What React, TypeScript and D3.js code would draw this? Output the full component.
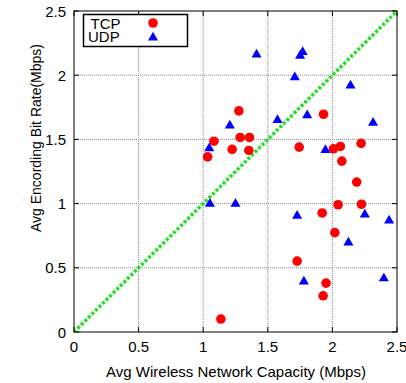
import { useRef, useEffect } from "react";
import { select, scaleLinear, line, symbol, symbolTriangle } from "d3";

const tcpX = [1.276, 1.083, 1.034, 1.224, 1.286, 1.358, 1.353, 1.931, 1.743, 2.008, 2.062, 2.073, 2.222, 2.188, 2.044, 2.225, 1.921, 2.019, 1.727, 1.951, 1.928, 1.137];
const tcpY = [1.722, 1.486, 1.364, 1.422, 1.515, 1.515, 1.414, 1.696, 1.44, 1.427, 1.445, 1.331, 1.469, 1.168, 0.991, 0.995, 0.927, 0.774, 0.552, 0.381, 0.282, 0.101];

const udpX = [1.413, 1.75, 1.77, 1.709, 2.14, 1.575, 1.805, 2.315, 1.206, 1.047, 1.946, 1.052, 1.25, 1.727, 2.251, 2.439, 2.124, 1.779, 2.398];
const udpY = [2.16, 2.15, 2.18, 1.984, 1.919, 1.65, 1.688, 1.629, 1.608, 1.43, 1.416, 0.999, 0.999, 0.904, 0.914, 0.867, 0.696, 0.393, 0.417];

const ticks = [0, 0.5, 1, 1.5, 2, 2.5];
const tickLabels = ["0", "0.5", "1", "1.5", "2", "2.5"];
const diagonal = [0, 2.5];

export default function App() {
    const svgRef = useRef(null);

    useEffect(() => {
        const svg = select(svgRef.current);
        svg.selectAll("*").remove();

        const x = scaleLinear().domain([0, 2.5]).range([74, 397]);
        const y = scaleLinear().domain([0, 2.5]).range([332, 11]);
        const font = "'Liberation Sans', Arial, sans-serif";

        // grid
        const grid = svg.append("g");
        ticks.slice(1, -1).forEach((t) => {
            grid.append("line").attr("x1", x(t)).attr("x2", x(t)).attr("y1", y(0)).attr("y2", y(2.5))
                .attr("stroke", "#888").attr("stroke-width", 1).attr("stroke-dasharray", "1,1");
            grid.append("line").attr("x1", x(0)).attr("x2", x(2.5)).attr("y1", y(t)).attr("y2", y(t))
                .attr("stroke", "#888").attr("stroke-width", 1).attr("stroke-dasharray", "1,1");
        });

        // ticks (inward, mirrored)
        ticks.forEach((t, i) => {
            svg.append("line").attr("x1", x(t)).attr("x2", x(t)).attr("y1", y(0)).attr("y2", y(0) - 5).attr("stroke", "#000");
            svg.append("line").attr("x1", x(t)).attr("x2", x(t)).attr("y1", y(2.5)).attr("y2", y(2.5) + 5).attr("stroke", "#000");
            svg.append("line").attr("x1", x(0)).attr("x2", x(0) + 5).attr("y1", y(t)).attr("y2", y(t)).attr("stroke", "#000");
            svg.append("line").attr("x1", x(2.5)).attr("x2", x(2.5) - 5).attr("y1", y(t)).attr("y2", y(t)).attr("stroke", "#000");
            svg.append("text").attr("x", x(t)).attr("y", 352).attr("text-anchor", "middle")
                .attr("font-family", font).attr("font-size", 15).text(tickLabels[i]);
            svg.append("text").attr("x", 66).attr("y", y(t) + 5.5).attr("text-anchor", "end")
                .attr("font-family", font).attr("font-size", 15).text(tickLabels[i]);
        });

        // diagonal
        svg.append("path")
            .attr("d", line<number>().x((d) => x(d)).y((d) => y(d))(diagonal))
            .attr("fill", "none").attr("stroke", "#22e022").attr("stroke-width", 3.5).attr("stroke-dasharray", "3,2");

        // border
        svg.append("rect").attr("x", x(0)).attr("y", y(2.5)).attr("width", x(2.5) - x(0)).attr("height", y(0) - y(2.5))
            .attr("fill", "none").attr("stroke", "#000").attr("stroke-width", 1);

        // TCP points
        svg.append("g").selectAll("circle").data(tcpX).join("circle")
            .attr("cx", (d) => x(d)).attr("cy", (_, i) => y(tcpY[i])).attr("r", 4.8).attr("fill", "#ff0000");

        // UDP points
        const tri = symbol().type(symbolTriangle).size(44);
        svg.append("g").selectAll("path").data(udpX).join("path")
            .attr("d", tri)
            .attr("transform", (d, i) => `translate(${x(d)},${y(udpY[i])})`).attr("fill", "#0000ff");

        // legend
        const lg = svg.append("g");
        lg.append("rect").attr("x", 83.5).attr("y", 14.5).attr("width", 104).attr("height", 32)
            .attr("fill", "#fff").attr("stroke", "#000").attr("stroke-width", 1.5);
        lg.append("text").attr("x", 90.5).attr("y", 29).attr("font-family", font).attr("font-size", 15).text("TCP");
        lg.append("text").attr("x", 88).attr("y", 41.5).attr("font-family", font).attr("font-size", 15).text("UDP");
        lg.append("circle").attr("cx", 153).attr("cy", 23).attr("r", 4.8).attr("fill", "#ff0000");
        lg.append("path").attr("d", tri).attr("transform", "translate(153,37.5)").attr("fill", "#0000ff");

        // axis titles
        svg.append("text").attr("x", 236).attr("y", 377).attr("text-anchor", "middle")
            .attr("font-family", font).attr("font-size", 15).text("Avg Wireless Network Capacity (Mbps)");
        svg.append("text").attr("transform", "translate(41,138) rotate(-90)").attr("text-anchor", "middle")
            .attr("font-family", font).attr("font-size", 14).text("Avg Encording Bit Rate(Mbps)");
    }, []);

    return <svg ref={svgRef} width={406} height={383} style={{ position: "absolute", left: 0, top: 0 }} />;
}
